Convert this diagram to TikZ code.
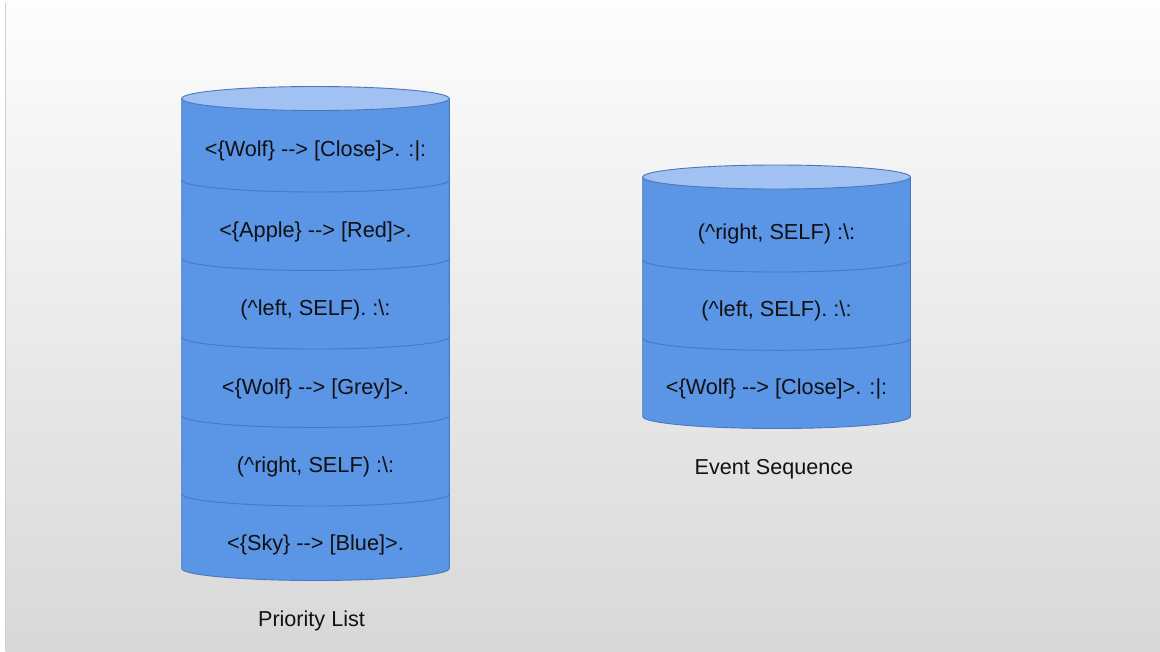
\documentclass[tikz,border=0pt]{standalone}
\usepackage{fontspec}
\setmainfont{Liberation Sans}
\definecolor{bgtop}{HTML}{FDFDFD}
\definecolor{bgbot}{HTML}{D8D8D8}
\definecolor{bgedge}{HTML}{CFCFCF}
\definecolor{canbody}{HTML}{5B95E6}
\definecolor{cantop}{HTML}{A1C1F2}
\definecolor{canline}{HTML}{4A78BE}
\definecolor{inktext}{HTML}{111111}
% two hyphens kept apart so they are not joined into a dash
\newcommand\twohy{-\kern0pt-}
\begin{document}
\begin{tikzpicture}[x=1pt,y=-1pt,
  celltext/.style={text=inktext, inner sep=0pt, font=\fontsize{21.7}{26}\selectfont},
  caption/.style={text=inktext, inner sep=0pt, font=\fontsize{21.6}{26}\selectfont},
  canedge/.style={draw=canline, line width=0.9pt},
  sepline/.style={draw=canline, line width=0.9pt}]
\useasboundingbox (0,0) rectangle (1160,651);
% page background
\fill[white] (0,0) rectangle (1160,651);
\shade[top color=bgtop, bottom color=bgbot] (5.5,0) rectangle (1160,651);
\draw[bgedge, line width=1pt] (5.5,3) -- (5.5,651);

% ---- left stack: Priority List ----
\path[fill=canbody, canedge] (181.7,98.5) -- (181.7,568.5)
  arc[start angle=180, end angle=360, x radius=133.8pt, y radius=12pt]
  -- (449.3,98.5) -- cycle;
\foreach \yy in {180,258.5,337,415.5,494}
  \draw[sepline] (181.7,\yy) arc[start angle=180, end angle=360, x radius=133.8pt, y radius=12pt];
\path[fill=cantop, canedge] (315.5,98.5) ellipse[x radius=133.8pt, y radius=12pt];

\node[celltext] (p1) at (315.5,150.5) {<\{Wolf\} \twohy> [Close]>. :|:};
\node[celltext] (p2) at (315.5,232) {<\{Apple\} \twohy> [Red]>.};
\node[celltext] (p3) at (315.5,310) {(\textasciicircum left, SELF). :\textbackslash:};
\node[celltext] (p4) at (315.5,389) {<\{Wolf\} \twohy> [Grey]>.};
\node[celltext] (p5) at (315.5,467) {(\textasciicircum right, SELF) :\textbackslash:};
\node[celltext] (p6) at (315.5,544.5) {<\{Sky\} \twohy> [Blue]>.};
\node[caption] (plist) at (311.5,621) {Priority List};

% ---- right stack: Event Sequence ----
\path[fill=canbody, canedge] (642.7,177) -- (642.7,416.5)
  arc[start angle=180, end angle=360, x radius=133.8pt, y radius=12pt]
  -- (910.3,177) -- cycle;
\foreach \yy in {260,338.3}
  \draw[sepline] (642.7,\yy) arc[start angle=180, end angle=360, x radius=133.8pt, y radius=12pt];
\path[fill=cantop, canedge] (776.5,177) ellipse[x radius=133.8pt, y radius=12pt];

\node[celltext] (e1) at (776.5,233.5) {(\textasciicircum right, SELF) :\textbackslash:};
\node[celltext] (e2) at (776.5,311) {(\textasciicircum left, SELF). :\textbackslash:};
\node[celltext] (e3) at (776.5,389) {<\{Wolf\} \twohy> [Close]>. :|:};
\node[caption] (eseq) at (774,469) {Event Sequence};
\end{tikzpicture}
\end{document}
